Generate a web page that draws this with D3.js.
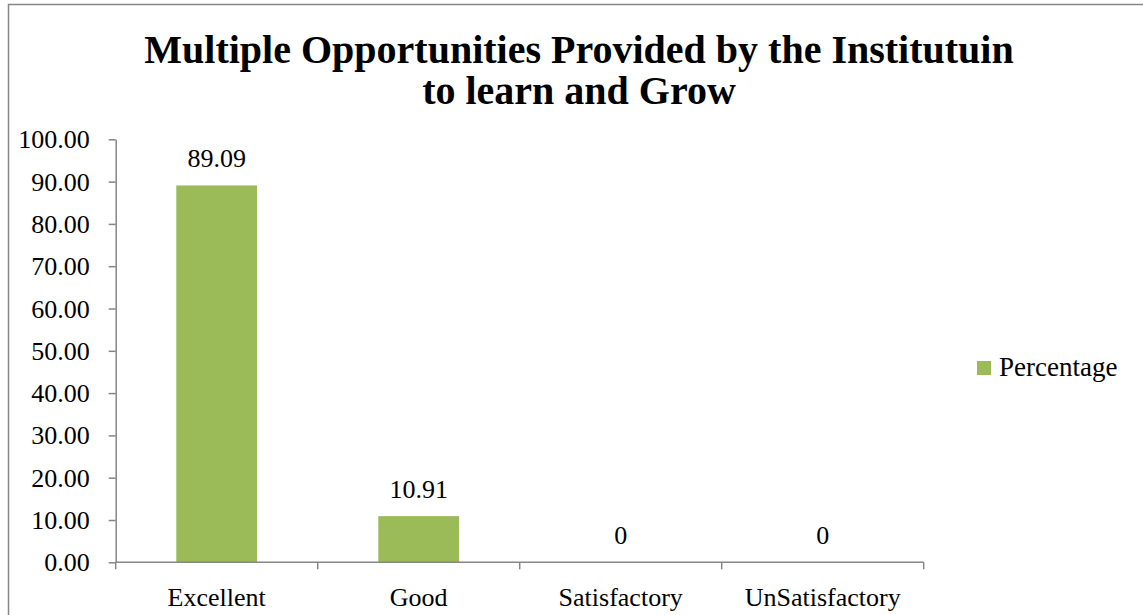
<!DOCTYPE html>
<html lang="en">
	<head>
		<meta charset="utf-8">
		<title>Multiple Opportunities</title>
		<script type="text/javascript" src="https://cdn.jsdelivr.net/npm/d3@7"></script>
		<style>
			body { margin: 0; background: #fff; }
			svg text { font-family: "Liberation Serif", "DejaVu Serif", serif; fill: #000; }
		</style>
	</head>
	<body>
		<script type="text/javascript">
			//Data
			var categories = ["Excellent", "Good", "Satisfactory", "UnSatisfactory"];
			var percentage = [89.09, 10.91, 0, 0];
			var valueLabels = ["89.09", "10.91", "0", "0"];
			var yTicks = [0, 10, 20, 30, 40, 50, 60, 70, 80, 90, 100];
			var titleLines = ["Multiple Opportunities Provided by the Institutuin", "to learn and Grow"];
			var seriesName = "Percentage";

			//Width and height
			var w = 1143;
			var h = 615;
			var plot = { left: 115.7, right: 923.7, top: 139.3, bottom: 562.3 };
			var barColor = "#9BBB59";
			var axisColor = "#868686";
			var fontSize = "26px";

			var svg = d3.select("body")
						.append("svg")
						.attr("width", w)
						.attr("height", h);

			//Chart border (only top and left visible)
			svg.append("rect")
				.attr("x", 8.5)
				.attr("y", 4.5)
				.attr("width", w + 20)
				.attr("height", h + 20)
				.attr("fill", "none")
				.attr("stroke", axisColor)
				.attr("stroke-width", 1.5);

			//Title
			svg.selectAll("text.title")
				.data(titleLines)
				.enter()
				.append("text")
				.attr("class", "title")
				.attr("x", 579)
				.attr("y", function(d, i) { return 63 + i * 41; })
				.attr("text-anchor", "middle")
				.attr("font-weight", "bold")
				.attr("font-size", "40px")
				.text(function(d) { return d; });

			//Scales
			var x = d3.scaleBand()
				.domain(categories)
				.range([plot.left, plot.right])
				.paddingInner(0.6)
				.paddingOuter(0.3);

			var y = d3.scaleLinear()
				.domain([0, 100])
				.range([plot.bottom, plot.top]);

			//Y axis
			var yAxis = svg.append("g")
				.attr("transform", "translate(" + plot.left + ",0)")
				.call(d3.axisLeft(y)
					.tickValues(yTicks)
					.tickFormat(d3.format(".2f"))
					.tickSizeInner(7)
					.tickSizeOuter(0)
					.tickPadding(19));
			yAxis.select(".domain").attr("stroke", axisColor).attr("stroke-width", 1.5);
			yAxis.selectAll(".tick line").attr("stroke", axisColor).attr("stroke-width", 1.5);
			yAxis.selectAll(".tick text")
				.attr("font-size", fontSize)
				.attr("font-family", "Liberation Serif")
				.attr("fill", "#000")
				.attr("dy", "0.33em");

			//Bars
			svg.selectAll("rect.bar")
				.data(percentage)
				.enter()
				.append("rect")
				.attr("class", "bar")
				.attr("x", function(d, i) { return x(categories[i]); })
				.attr("y", function(d) { return y(d); })
				.attr("width", x.bandwidth())
				.attr("height", function(d) { return plot.bottom - y(d); })
				.attr("fill", barColor);

			//Value labels
			svg.selectAll("text.value")
				.data(percentage)
				.enter()
				.append("text")
				.attr("class", "value")
				.attr("x", function(d, i) { return x(categories[i]) + x.bandwidth() / 2; })
				.attr("y", function(d) { return y(d) - 18; })
				.attr("text-anchor", "middle")
				.attr("font-size", fontSize)
				.text(function(d, i) { return valueLabels[i]; });

			//X axis
			var xAxis = svg.append("g")
				.attr("transform", "translate(0," + plot.bottom + ")")
				.call(d3.axisBottom(x).tickSize(0).tickPadding(25));
			xAxis.select(".domain").remove();
			xAxis.selectAll(".tick text")
				.attr("font-size", fontSize)
				.attr("font-family", "Liberation Serif")
				.attr("fill", "#000");

			xAxis.append("line")
				.attr("x1", plot.left)
				.attr("x2", plot.right)
				.attr("stroke", axisColor)
				.attr("stroke-width", 1.5);

			//Tick marks between categories
			var step = (plot.right - plot.left) / categories.length;
			xAxis.selectAll("line.sep")
				.data(d3.range(categories.length + 1))
				.enter()
				.append("line")
				.attr("class", "sep")
				.attr("x1", function(d) { return plot.left + d * step; })
				.attr("x2", function(d) { return plot.left + d * step; })
				.attr("y1", 0)
				.attr("y2", 7)
				.attr("stroke", axisColor)
				.attr("stroke-width", 1.5);

			//Legend
			var legend = svg.append("g")
				.attr("transform", "translate(977,361)");
			legend.append("rect")
				.attr("width", 14)
				.attr("height", 14)
				.attr("fill", barColor);
			legend.append("text")
				.attr("x", 22)
				.attr("y", 15)
				.attr("font-size", "27px")
				.text(seriesName);
		</script>
	</body>
</html>
